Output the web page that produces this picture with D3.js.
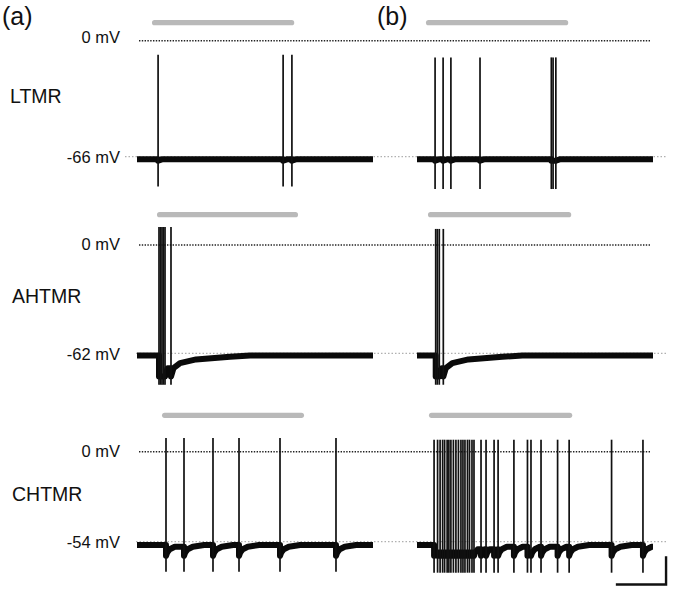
<!doctype html>
<html lang="en">
<head>
  <meta charset="UTF-8">
  <title>Sensory neuron responses</title>
  <script src="https://d3js.org/d3.v7.min.js"></script>
  <style>
    body { margin: 0; background: #fff; }
    text { font-family: "Liberation Sans", Arial, sans-serif; fill: #111; }
  </style>
</head>
<body>
  <div id="chart"></div>
  <script type="text/javascript">
    // rows of the figure
    const rowNames = ["LTMR", "AHTMR", "CHTMR"];
    // mV of the grey dotted resting line and where the trace actually sits
    const baselineMV = [-66, -62, -54];
    const restMV = [-67.5, -63.3, -56];

    // spike times (s) in column (a) and column (b)
    const spikesA = [
      [0.84, 5.82, 6.17],
      [0.876, 0.936, 0.996, 1.056, 1.116, 1.354],
      [1.155, 1.872, 3.027, 4.063, 5.696, 7.926]
    ];
    const spikesB = [
      [0.72, 1.04, 1.35, 2.51, 5.35, 5.42, 5.53],
      [0.745, 0.81, 0.888, 1.048],
      [0.68, 0.82, 0.92, 1.02, 1.10, 1.20, 1.27, 1.35, 1.45, 1.55, 1.65, 1.75,
       1.83, 1.91, 2.01, 2.09, 2.19, 2.27, 2.55, 2.75, 3.07, 3.23, 3.86, 4.40,
       4.54, 4.94, 5.60, 6.06, 7.75, 9.00]
    ];
    // spike peak / trough (mV), [column a, column b]
    const peakMV = [[-8, -9.5], [10.3, 9.2], [8.2, 7.2]];
    const troughMV = [[-83, -84.4], [-80, -80], [-72, -72.6]];

    // after-hyperpolarisation shape: [seconds after spike, mV from rest]
    const ahpShape = [
      [[0, -0.8], [0.15, 0]],
      [[0, -12], [0.1, -7.2], [0.36, -4.3], [1.0, -2.2], [2.35, -0.7], [3.15, 0]],
      [[0, -6.5], [0.05, -4.5], [0.15, -2.5], [0.35, -1], [0.8, 0]]
    ];

    // stimulus (grey bar) start/end in seconds
    const stimA = [[0.70, 6.16], [0.90, 6.31], [1.10, 6.55]];
    const stimB = [[0.46, 5.92], [0.54, 6.04], [0.58, 6.08]];

    // scale bar: 2 s, 17 mV
    const scaleBar = { seconds: 2, mV: 17 };
    const traceEnd = 9.4;

    // layout
    const width = 686, height = 598;
    const zeroY = [40.7, 245, 451.7];
    const baseY = [156.7, 353.3, 541.7];
    const stimAbove = [18, 30.3, 36.4];

    const svg = d3.select("#chart").append("svg")
      .attr("width", width)
      .attr("height", height);

    const xA = d3.scaleLinear().domain([0, traceEnd]).range([137, 373]);
    const xB = d3.scaleLinear().domain([0, traceEnd]).range([417, 653]);

    // panel letters
    svg.append("text").attr("x", 2).attr("y", 25).attr("font-size", 25).text("(a)");
    svg.append("text").attr("x", 377).attr("y", 25).attr("font-size", 25).text("(b)");

    function buildTrace(spikes, rest, shape) {
      let pts = [[0, rest]];
      spikes.forEach(function(t, i) {
        let next = i < spikes.length - 1 ? spikes[i + 1] : traceEnd;
        let last = pts[pts.length - 1];
        pts.push([t, last[1]]);
        shape.forEach(function(s) {
          if (s[0] === 0 || t + s[0] < next) pts.push([t + s[0], rest + s[1]]);
        });
      });
      pts.push([traceEnd, pts[pts.length - 1][1]]);
      return pts;
    }

    rowNames.forEach(function(name, r) {
      const y = d3.scaleLinear().domain([baselineMV[r], 0]).range([baseY[r], zeroY[r]]);
      const g = svg.append("g");

      // grey resting line
      g.append("line")
        .attr("x1", r === 0 ? 125 : 136).attr("x2", xB(traceEnd) + 13)
        .attr("y1", y(baselineMV[r])).attr("y2", y(baselineMV[r]))
        .attr("stroke", "#b0b0b0").attr("stroke-width", 1.2)
        .attr("stroke-dasharray", "1.5,2");

      // 0 mV line
      g.append("line")
        .attr("x1", xA(0) + 2).attr("x2", xB(traceEnd) - 3)
        .attr("y1", y(0)).attr("y2", y(0))
        .attr("stroke", "#222").attr("stroke-width", 1.4)
        .attr("stroke-dasharray", "1.4,1.4");

      // labels
      g.append("text").attr("x", 120).attr("y", y(0) + (r === 0 ? -2 : 1))
        .attr("text-anchor", "end").attr("dominant-baseline", "middle")
        .attr("font-size", 16.5).text("0 mV");
      g.append("text").attr("x", 120).attr("y", y(baselineMV[r]) + 2)
        .attr("text-anchor", "end").attr("dominant-baseline", "middle")
        .attr("font-size", 16.5).text(baselineMV[r] + " mV");
      g.append("text").attr("x", r === 0 ? 10 : 12).attr("y", (zeroY[r] + baseY[r]) / 2 - 1)
        .attr("dominant-baseline", "middle")
        .attr("font-size", 19.5).text(name);

      [[xA, spikesA[r], stimA[r], 0], [xB, spikesB[r], stimB[r], 1]].forEach(function(p) {
        const x = p[0], spikes = p[1], stim = p[2], c = p[3];

        // stimulus bar
        g.append("line")
          .attr("x1", x(stim[0])).attr("x2", x(stim[1]))
          .attr("y1", y(0) - stimAbove[r]).attr("y2", y(0) - stimAbove[r])
          .attr("stroke", "#b9b9b9").attr("stroke-width", 5.2)
          .attr("stroke-linecap", "round");

        // membrane trace (noise band)
        const line = d3.line().x(d => x(d[0])).y(d => y(d[1]));
        g.append("path")
          .datum(buildTrace(spikes, restMV[r], ahpShape[r]))
          .attr("d", line)
          .attr("fill", "none").attr("stroke", "#0a0a0a")
          .attr("stroke-width", 6).attr("stroke-linejoin", "round");

        // spikes
        g.selectAll(null).data(spikes).enter().append("line")
          .attr("x1", d => x(d)).attr("x2", d => x(d))
          .attr("y1", y(peakMV[r][c])).attr("y2", y(troughMV[r][c]))
          .attr("stroke", "#111").attr("stroke-width", 1.7);
      });

      // scale bar in the last panel
      if (r === 2) {
        const x0 = xB(9.92), y0 = y(-79.7);
        const sx = xB(9.92 - scaleBar.seconds);
        const sy = y(-79.7 + scaleBar.mV);
        g.append("path")
          .attr("d", "M" + sx + "," + y0 + "H" + x0 + "V" + sy)
          .attr("fill", "none").attr("stroke", "#111").attr("stroke-width", 2.4);
      }
    });
  </script>
</body>
</html>
